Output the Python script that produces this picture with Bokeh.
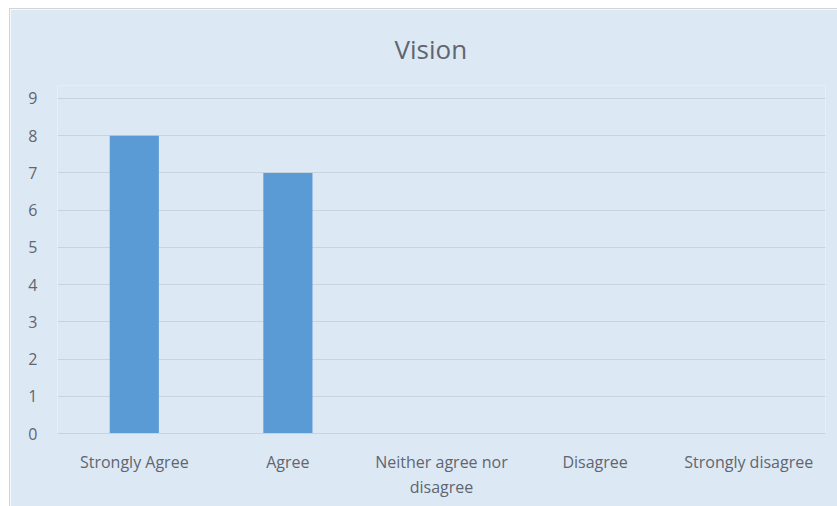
from bokeh.plotting import figure
from bokeh.models import FixedTicker, Range1d
from bokeh.embed import file_html
from bokeh.resources import INLINE

categories = ["Strongly Agree", "Agree", "Neither agree nor disagree", "Disagree", "Strongly disagree"]
values = [8, 7, 0, 0, 0]
y_ticks = [0, 1, 2, 3, 4, 5, 6, 7, 8, 9]
title_text = "Vision"

# wrapped display labels for the axis
factors = [c.replace("agree nor ", "agree nor\n") for c in categories]

BG = "#dde8f5"
FONT = "Open Sans"
TXT = "#5f6670"

p = figure(x_range=factors, y_range=Range1d(0, 9.348), width=827, height=497,
           output_backend="svg", toolbar_location=None,
           background_fill_color=BG, border_fill_color=BG,
           min_border_left=47, min_border_right=12, min_border_top=75, min_border_bottom=73,
           outline_line_color=None, title=title_text)
p.margin = (9, 0, 0, 10)
p.styles = {"outline": "1px solid #d4d4d4"}

p.title.align = "left"
p.title.offset = 337
p.title.text_font = FONT
p.title.text_font_size = "26px"
p.title.text_font_style = "normal"
p.title.text_color = TXT
p.title.standoff = 38

p.vbar(x=factors, top=values, width=0.32, color="#5b9bd5", line_color=None)

p.xgrid.grid_line_color = None
p.ygrid.grid_line_color = "#c8d3e0"
p.ygrid.grid_line_width = 1
p.yaxis.ticker = FixedTicker(ticks=y_ticks)

for ax in (p.xaxis, p.yaxis):
    ax.axis_line_color = None
    ax.major_tick_line_color = None
    ax.minor_tick_line_color = None
    ax.major_tick_out = 0
    ax.major_tick_in = 0
    ax.minor_tick_out = 0
    ax.axis_label_standoff = 0
    ax.major_label_text_font = FONT
    ax.major_label_text_font_size = "16px"
    ax.major_label_text_color = TXT
p.xaxis.axis_line_color = "#c8d3e0"
p.xaxis.major_label_standoff = 17
p.xaxis.major_label_text_line_height = 1.16
p.yaxis.major_label_standoff = 20

open("out.html", "w").write(file_html(p, INLINE))
